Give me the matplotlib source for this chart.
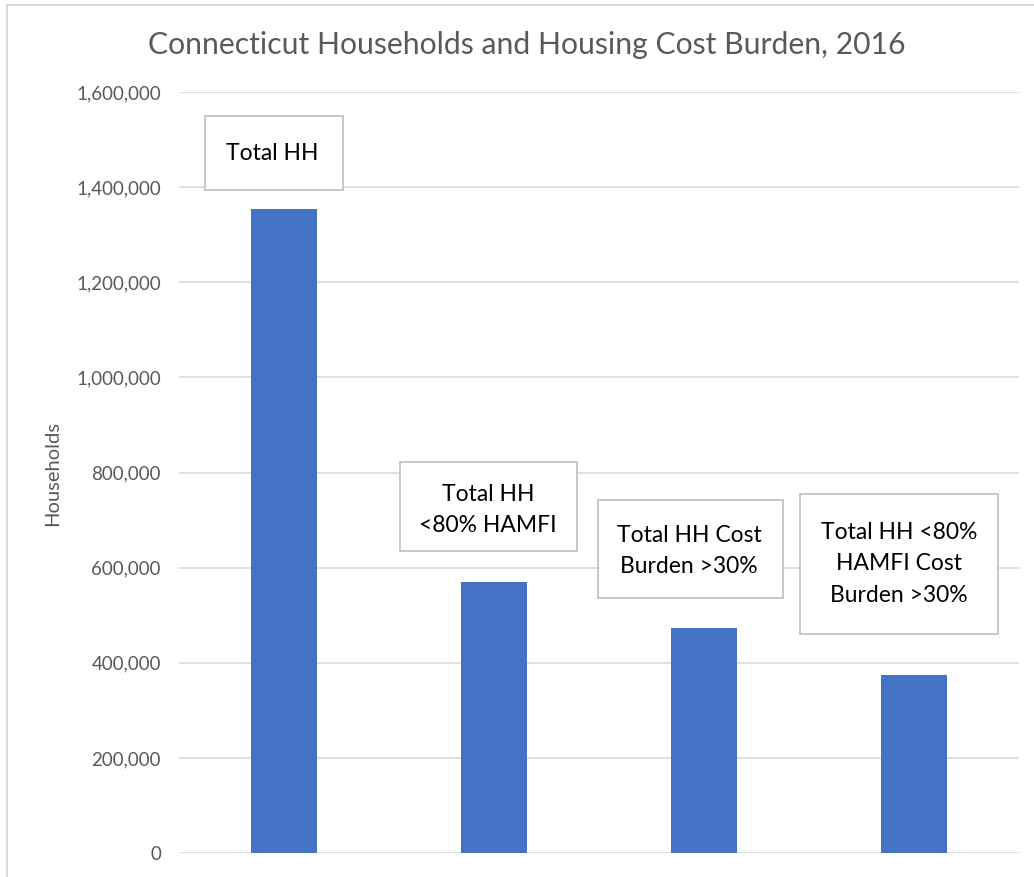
import matplotlib
matplotlib.use("Agg")
import matplotlib.pyplot as plt
from matplotlib.ticker import FuncFormatter, MultipleLocator
from matplotlib.patches import Rectangle

categories = ["Total HH", "Total HH\n<80% HAMFI", "Total HH Cost\nBurden >30%",
              "Total HH <80%\nHAMFI Cost\nBurden >30%"]
values = [1355000, 569000, 473000, 374000]

title = "Connecticut Households and Housing Cost Burden, 2016"
ylabel = "Households"

FONT = ["Lato", "DejaVu Sans"]
GRAY = "#595959"
BAR = "#4472C4"

W, H = 1034, 877
fig = plt.figure(figsize=(W / 100, H / 100), dpi=100)
fig.patch.set_facecolor("white")
# chart outer frame (left and top visible)
fig.patches.append(Rectangle((7 / W, -0.1), 1.2, (H - 5) / H + 0.1,
                             transform=fig.transFigure, fill=False,
                             edgecolor="#D9D9D9", linewidth=1.5))

ax = fig.add_axes([179 / W, 24 / H, 840 / W, 761 / H])
x = list(range(len(categories)))
ax.bar(x, values, width=0.315, color=BAR, zorder=3)
ax.set_xlim(-0.5, len(categories) - 0.5)
ax.set_ylim(0, 1600000)
ax.yaxis.set_major_locator(MultipleLocator(200000))
ax.yaxis.set_major_formatter(FuncFormatter(lambda v, p: f"{int(v):,}"))
ax.grid(axis="y", color="#D9D9D9", linewidth=1.2, zorder=0)
ax.set_xticks([])
for s in ax.spines.values():
    s.set_visible(False)
ax.tick_params(axis="y", length=0, pad=13, labelsize=13.5, labelcolor=GRAY)
for t in ax.get_yticklabels():
    t.set_family(FONT)

fig.text(53 / W, 1 - 473 / H, ylabel, rotation=90, ha="center", va="center",
         fontsize=14.5, color=GRAY, family=FONT)

# annotation boxes (figure pixel layout: left, top, right, bottom)
boxes = [(205, 116, 343, 190), (400, 462, 577, 551),
         (598, 500, 783, 598), (800, 494, 998, 634)]
text_centers = [(272, 153), (488, 510), (689, 551), (899, 564)]
for lab, (l, t, r, b), (cx, cy) in zip(categories, boxes, text_centers):
    fig.patches.append(Rectangle((l / W, 1 - b / H), (r - l) / W, (b - t) / H,
                                 transform=fig.transFigure, facecolor="white",
                                 edgecolor="#BFBFBF", linewidth=1.2, zorder=5))
    fig.text(cx / W, 1 - cy / H, lab, ha="center", va="center",
             fontsize=16.5, color="black", family=FONT, linespacing=1.6,
             zorder=6)

fig.text(527 / W, 1 - 45 / H, title, ha="center", va="center",
         fontsize=21.7, color=GRAY, family=FONT)

fig.savefig("out.png", dpi=100)
